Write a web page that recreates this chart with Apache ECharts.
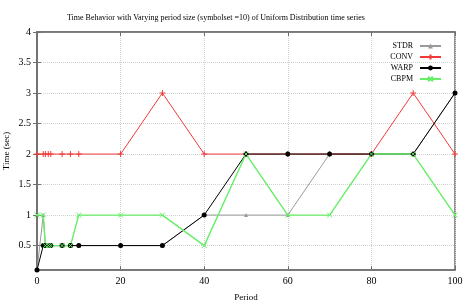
<!DOCTYPE html>
<html><head><meta charset="utf-8">
<script src="https://cdn.jsdelivr.net/npm/echarts@6/dist/echarts.min.js"></script>
<style>html,body{margin:0;padding:0;background:#fff}#c{width:467px;height:304px}</style>
</head><body><div id="c"></div>
<script>
const titleText = 'Time Behavior with Varying period size (symbolset =10) of Uniform Distribution time series';
const periods = [0, 1.5, 2, 2.7, 3.3, 6, 8, 10, 20, 30, 40, 50, 60, 70, 80, 90, 100];
const STDR = [0.1, 1, 0.5, 0.5, 0.5, 0.5, 0.5, 0.5, 0.5, 0.5, 1, 1, 1, 2, 2, 2, 3];
const CONV = [2, 2, 2, 2, 2, 2, 2, 2, 2, 3, 2, 2, 2, 2, 2, 3, 2];
const WARP = [0.1, 0.5, 0.5, 0.5, 0.5, 0.5, 0.5, 0.5, 0.5, 0.5, 1, 2, 2, 2, 2, 2, 3];
const CBPM = [1, 1, 0.5, 0.5, 0.5, 0.5, 0.5, 1, 1, 1, 0.5, 2, 1, 1, 2, 2, 1];
const yTicks = [0.5, 1, 1.5, 2, 2.5, 3, 3.5, 4];

const font = 'Liberation Serif';
const pairs = arr => periods.map((p, i) => [p, arr[i]]);
const plusSym = 'path://M0,5L10,5M5,0L5,10';
const crossSym = 'path://M0,0L10,10M10,0L0,10';

const series = [
  {name:'STDR', data: pairs(STDR), color:'#9a9a9a', symbol:'triangle', size:4},
  {name:'CONV', data: pairs(CONV), color:'#f03a3a', symbol:plusSym, size:6},
  {name:'WARP', data: pairs(WARP), color:'#000000', symbol:'circle', size:5},
  {name:'CBPM', data: pairs(CBPM), color:'#66ee66', symbol:crossSym, size:5}
].map(s => ({
  name: s.name, type:'line', data: s.data, symbol: s.symbol, symbolSize: s.size,
  showSymbol: true, animation:false, z: 3,
  lineStyle:{color:s.color, width: s.name==='CBPM'?1.4:1},
  itemStyle:{color:s.color, borderColor:s.color, borderWidth: (s.symbol===plusSym||s.symbol===crossSym)?1:0}
}));

const chart = echarts.init(document.getElementById('c'), null, {renderer:'canvas'});
const axisLine = {show:true, lineStyle:{color:'#707070', width:1.5}};
const split = {show:true, lineStyle:{color:'#d0d0d0', type:'dotted', width:1}};
const yTick = {show:true, inside:true, length:4, customValues: yTicks, lineStyle:{color:'#707070'}};
chart.setOption({
  animation:false,
  title:{text:titleText, left:62, top:9, textStyle:{fontFamily:font, fontSize:8, fontWeight:'normal', color:'#000'}},
  legend:{orient:'vertical', right:20, top:37, align:'right', itemWidth:21, itemHeight:6, itemGap:3,
    textStyle:{fontFamily:font, fontSize:8, color:'#000', padding:[0,2,0,0]},
    data: series.map(s=>s.name)},
  grid:{left:37, right:12, top:32, bottom:34, show:true, borderColor:'#707070', borderWidth:1.5,
    containLabel:false, outerBoundsMode:'none'},
  xAxis:[{type:'value', min:0, max:100, interval:20,
    name:'Period', nameLocation:'middle', nameGap:23, nameMoveOverlap:false,
    nameTextStyle:{fontFamily:font, fontSize:9, color:'#000'},
    axisLine, axisTick:{show:true, inside:true, length:4, lineStyle:{color:'#707070'}},
    axisLabel:{fontFamily:font, fontSize:10, color:'#000', margin:6},
    splitLine:split},
    {type:'value', min:0, max:100, interval:20, position:'top', axisLine,
     axisTick:{show:true, inside:true, length:4, lineStyle:{color:'#707070'}}, axisLabel:{show:false}, splitLine:{show:false}}],
  yAxis:[{type:'value', min:0.1, max:4,
    name:'Time (sec)', nameLocation:'middle', nameGap:26, nameMoveOverlap:false,
    nameTextStyle:{fontFamily:font, fontSize:9, color:'#000'},
    axisLine, axisTick:yTick,
    axisLabel:{fontFamily:font, fontSize:10, color:'#000', margin:6, customValues: yTicks},
    splitLine:split},
    {type:'value', min:0.1, max:4, position:'right', axisLine,
     axisTick:yTick, axisLabel:{show:false}, splitLine:{show:false}}],
  series
});
</script></body></html>
